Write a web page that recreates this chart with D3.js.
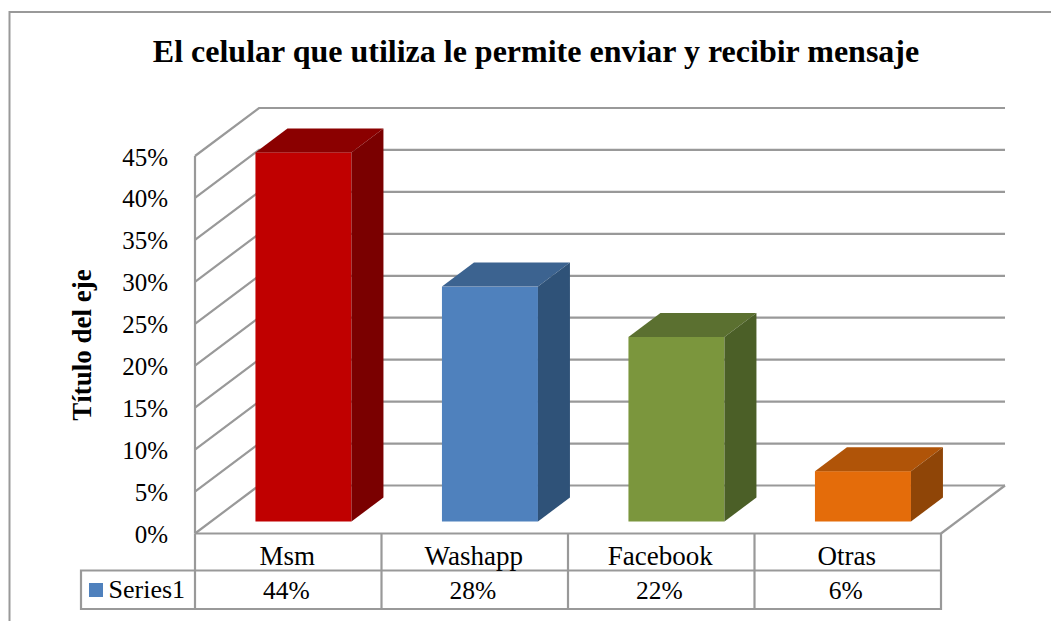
<!DOCTYPE html>
<html>
<head>
<meta charset="utf-8">
<script src="https://cdn.jsdelivr.net/npm/d3@7"></script>
<style>
  html, body { margin: 0; padding: 0; background: #fff; }
  svg { display: block; }
  text { font-family: "Liberation Serif", serif; fill: #000; }
</style>
</head>
<body>
<div id="chart"></div>
<script>
var width = 1051,
  height = 621;

var categories = ["Msm", "Washapp", "Facebook", "Otras"];
var values = [44, 28, 22, 6];
var yTicks = [0, 5, 10, 15, 20, 25, 30, 35, 40, 45];
var valueLabels = ["44%", "28%", "22%", "6%"];
var seriesName = "Series1";
var chartTitle = "El celular que utiliza le permite enviar y recibir mensaje";
var yTitle = "Título del eje";
var frontColors = ["#c00000", "#4f81bd", "#7b963d", "#e46c0a"];
var topColors = ["#8b0000", "#3c6390", "#5b7030", "#b05408"];
var sideColors = ["#7a0000", "#2f5278", "#4b5f27", "#8f4507"];

var gridColor = "#999999";

// depth of the fake 3d box
var depthX = 64,
  depthY = 48;
var barDepthX = 32,
  barDepthY = 24;
var barInsetX = 15.2,
  barInsetY = 12;

var y = d3.scaleLinear().domain([0, 45]).range([533.5, 156]);
var x = d3.scaleBand().domain(categories).range([195, 941]).paddingInner(0).paddingOuter(0);
var barWidth = 96;

var svg = d3.select("#chart")
  .append("svg")
  .attr("width", width)
  .attr("height", height)
  .attr("viewBox", [0, 0, width, height]);

// outer frame, runs off the right and bottom
svg.append("path")
  .attr("d", "M9.5,621V12H1051")
  .attr("fill", "none")
  .attr("stroke", gridColor)
  .attr("stroke-width", 2);

svg.append("text")
  .attr("x", 536)
  .attr("y", 62)
  .attr("text-anchor", "middle")
  .attr("font-size", 32)
  .attr("font-weight", "bold")
  .text(chartTitle);

// walls: side wall slants and back wall lines
var grid = svg.append("g")
  .attr("fill", "none")
  .attr("stroke", gridColor)
  .attr("stroke-width", 2.2);

grid.selectAll(".back")
  .data(yTicks)
  .enter().append("path")
  .attr("class", "back")
  .attr("d", function (d) {
    var yy = y(d);
    return "M" + 195 + "," + yy + "L" + (195 + depthX) + "," + (yy - depthY) + "H1005";
  });

grid.append("path")
  .attr("d", "M195," + y(0) + "V" + y(45));
// floor right edge
grid.append("path")
  .attr("d", "M941," + y(0) + "L1005," + (y(0) - depthY));

// y axis labels
svg.selectAll(".ytick")
  .data(yTicks)
  .enter().append("text")
  .attr("class", "ytick")
  .attr("x", 168)
  .attr("y", function (d) { return y(d) + 9.5; })
  .attr("text-anchor", "end")
  .attr("font-size", 25)
  .text(function (d) { return d + "%"; });

svg.append("text")
  .attr("transform", "translate(91,345) rotate(-90)")
  .attr("text-anchor", "middle")
  .attr("font-size", 27)
  .attr("font-weight", "bold")
  .text(yTitle);

// bars
var bars = svg.selectAll(".bar")
  .data(values)
  .enter().append("g")
  .attr("class", "bar");

function barLeft(i) {
  return x(categories[i]) + x.bandwidth() / 2 - barWidth / 2 + barInsetX;
}
var barBase = y(0) - barInsetY;

function barTop(d) {
  return y(d) - barInsetY;
}

bars.append("rect")
  .attr("x", function (d, i) { return barLeft(i); })
  .attr("y", barTop)
  .attr("width", barWidth)
  .attr("height", function (d) { return barBase - barTop(d); })
  .attr("fill", function (d, i) { return frontColors[i]; });

bars.append("path")
  .attr("d", function (d, i) {
    var l = barLeft(i), t = barTop(d);
    return "M" + l + "," + t + "L" + (l + barDepthX) + "," + (t - barDepthY) + "H" + (l + barWidth + barDepthX) + "L" + (l + barWidth) + "," + t + "Z";
  })
  .attr("fill", function (d, i) { return topColors[i]; });

bars.append("path")
  .attr("d", function (d, i) {
    var r = barLeft(i) + barWidth, t = barTop(d);
    return "M" + r + "," + t + "L" + (r + barDepthX) + "," + (t - barDepthY) + "V" + (barBase - barDepthY) + "L" + r + "," + barBase + "Z";
  })
  .attr("fill", function (d, i) { return sideColors[i]; });

// data table
var rowTop = y(0),
  rowMid = 570.5,
  rowBottom = 609,
  tableLeft = 81;

var table = svg.append("g")
  .attr("fill", "none")
  .attr("stroke", gridColor)
  .attr("stroke-width", 2.2);

table.append("path").attr("d", "M195," + rowTop + "H941V" + rowBottom + "H" + tableLeft + "V" + rowMid + "H941");
table.selectAll(".col")
  .data([195].concat(categories.slice(1).map(function (c) { return x(c); })))
  .enter().append("path")
  .attr("class", "col")
  .attr("d", function (d) { return "M" + d + "," + rowTop + "V" + rowBottom; });

svg.selectAll(".cat")
  .data(categories)
  .enter().append("text")
  .attr("class", "cat")
  .attr("x", function (d) { return x(d) + x.bandwidth() / 2 - 1; })
  .attr("y", 565)
  .attr("text-anchor", "middle")
  .attr("font-size", 27)
  .text(function (d) { return d; });

svg.selectAll(".val")
  .data(valueLabels)
  .enter().append("text")
  .attr("class", "val")
  .attr("x", function (d, i) { return x(categories[i]) + x.bandwidth() / 2 - 2; })
  .attr("y", 599)
  .attr("text-anchor", "middle")
  .attr("font-size", 25.5)
  .text(function (d) { return d; });

svg.append("rect")
  .attr("x", 89)
  .attr("y", 583)
  .attr("width", 14)
  .attr("height", 14)
  .attr("fill", "#4f81bd");

svg.append("text")
  .attr("x", 108.5)
  .attr("y", 598)
  .attr("font-size", 26)
  .text(seriesName);
</script>
</body>
</html>
